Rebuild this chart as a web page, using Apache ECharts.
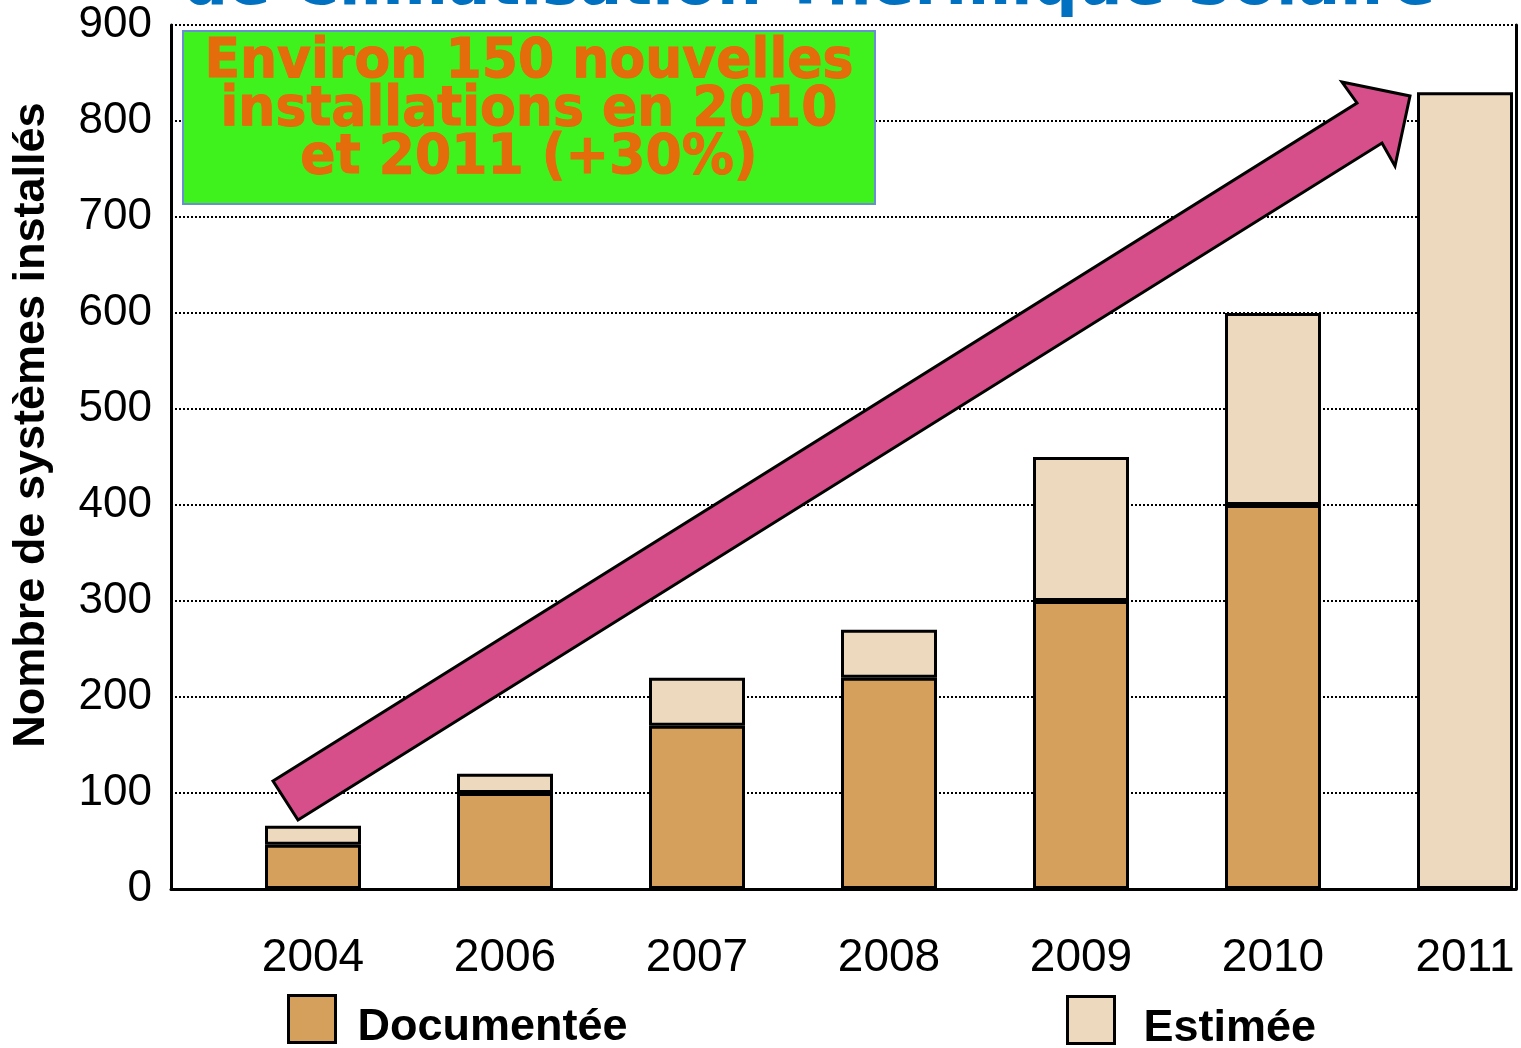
<!DOCTYPE html>
<html>
<head>
<meta charset="utf-8">
<script src="https://cdn.jsdelivr.net/npm/echarts@6/dist/echarts.min.js"></script>
<style>
  html, body { margin: 0; padding: 0; background: #fff; }
  #chart { width: 1521px; height: 1048px; }
</style>
</head>
<body>
<div id="chart"></div>
<script>
// Années et nombre de systèmes (documentés / estimés, empilés)
var annees = ['2004', '2006', '2007', '2008', '2009', '2010', '2011'];
var documentee = [46, 100, 170, 220, 300, 400, null];
var estimee = [20, 20, 50, 50, 150, 200, 830];
var yTicks = [0, 100, 200, 300, 400, 500, 600, 700, 800, 900];

var COL_DOC = '#D4A05C';
var COL_EST = '#EDD9BE';
var FONT = "'Liberation Sans', Arial, sans-serif";

var chart = echarts.init(document.getElementById('chart'), null, { renderer: 'canvas' });

function legendText(gap) {
  return {
    color: '#000', fontSize: 45, fontWeight: 'bold', fontFamily: FONT,
    rich: {
      t: { color: '#000', fontSize: 45, fontWeight: 'bold', fontFamily: FONT, padding: [17, 0, 0, gap] }
    }
  };
}

var option = {
  backgroundColor: '#ffffff',
  animation: false,
  grid: [
    // cadre : axe vertical, quadrillage, bordures
    { left: 171, top: 25, width: 1345, height: 864, outerBoundsMode: 'none' },
    // barres (la dernière bande déborde à droite)
    { left: 217, top: 25, width: 1344, height: 864, outerBoundsMode: 'none' }
  ],
  xAxis: [
    {
      gridIndex: 0, type: 'value', min: 0, max: 1,
      axisLine: { show: true, lineStyle: { color: '#000', width: 3 } },
      axisTick: { show: false }, axisLabel: { show: false }, splitLine: { show: false }
    },
    {
      gridIndex: 1, type: 'category', data: annees,
      axisLine: { show: false }, axisTick: { show: false },
      axisLabel: { color: '#000', fontSize: 46, fontFamily: FONT, margin: 46 }
    }
  ],
  yAxis: [
    {
      gridIndex: 0, type: 'value', min: yTicks[0], max: yTicks[yTicks.length - 1], interval: 100,
      axisLine: { show: true, lineStyle: { color: '#000', width: 3 } },
      axisTick: { show: false },
      axisLabel: { color: '#000', fontSize: 44, fontFamily: FONT, margin: 19 },
      splitLine: { show: true, lineStyle: { color: '#000', width: 2, type: [2, 2] } }
    },
    {
      gridIndex: 0, type: 'value', position: 'right', min: 0, max: 900,
      axisLine: { show: true, lineStyle: { color: '#000', width: 3 } },
      axisTick: { show: false }, axisLabel: { show: false }, splitLine: { show: false }
    },
    {
      gridIndex: 1, type: 'value', min: 0, max: 900, show: false
    }
  ],
  legend: [
    {
      left: 287, top: 994, padding: 0, itemWidth: 47, itemHeight: 47, icon: 'rect',
      data: ['Documentée'], formatter: '{t|{name}}',
      itemStyle: { borderColor: '#000', borderWidth: 3 },
      textStyle: legendText(17)
    },
    {
      left: 1066, top: 995, padding: 0, itemWidth: 47, itemHeight: 47, icon: 'rect',
      data: ['Estimée'], formatter: '{t|{name}}',
      itemStyle: { borderColor: '#000', borderWidth: 3 },
      textStyle: legendText(24)
    }
  ],
  series: [
    {
      name: 'Documentée', type: 'bar', stack: 'total',
      xAxisIndex: 1, yAxisIndex: 2, barWidth: 96,
      itemStyle: { color: COL_DOC, borderColor: '#000', borderWidth: 3 },
      data: documentee
    },
    {
      name: 'Estimée', type: 'bar', stack: 'total',
      xAxisIndex: 1, yAxisIndex: 2, barWidth: 96,
      itemStyle: { color: COL_EST, borderColor: '#000', borderWidth: 3 },
      data: estimee
    }
  ],
  graphic: [
    // titre (partiellement hors cadre en haut)
    {
      type: 'text', x: 183, y: -12, z: 20,
      style: {
        text: 'de Climatisation Thermique Solaire',
        font: "bold 63px 'DejaVu Sans', Verdana, sans-serif",
        fill: '#0070C0', align: 'left', verticalAlign: 'middle',
        shadowColor: 'rgba(0,0,0,0.45)', shadowOffsetX: 3, shadowOffsetY: 3, shadowBlur: 3
      }
    },
    // flèche de tendance
    {
      type: 'polygon', z: 15,
      shape: {
        points: [[273, 781], [1357, 103], [1342, 82], [1410, 96], [1395, 166], [1382, 143], [298, 820]]
      },
      style: { fill: '#D64F8A', stroke: '#000', lineWidth: 3, lineJoin: 'miter' }
    },
    // encadré
    {
      type: 'rect', z: 15,
      shape: { x: 183, y: 31, width: 692, height: 173 },
      style: { fill: '#40F21D', stroke: '#6A8FD0', lineWidth: 2 }
    },
    {
      type: 'text', x: 529, y: 110, z: 16, scaleX: 0.93,
      style: {
        text: 'Environ 150 nouvelles\ninstallations en 2010\net 2011 (+30%)',
        font: "bold 56px 'DejaVu Sans', Verdana, sans-serif",
        lineHeight: 48,
        fill: '#E46C0A', align: 'center', verticalAlign: 'middle',
        stroke: '#E46C0A', lineWidth: 1,
        shadowColor: 'rgba(0,60,0,0.55)', shadowOffsetX: 3, shadowOffsetY: 3, shadowBlur: 3
      }
    },
    // titre de l'axe vertical
    {
      type: 'text', x: 32, y: 425, rotation: Math.PI / 2, z: 10,
      style: {
        text: 'Nombre de systèmes installés',
        font: "bold 45px 'Liberation Sans', Arial, sans-serif",
        fill: '#000', align: 'center', verticalAlign: 'middle'
      }
    }
  ]
};

chart.setOption(option);
</script>
</body>
</html>
